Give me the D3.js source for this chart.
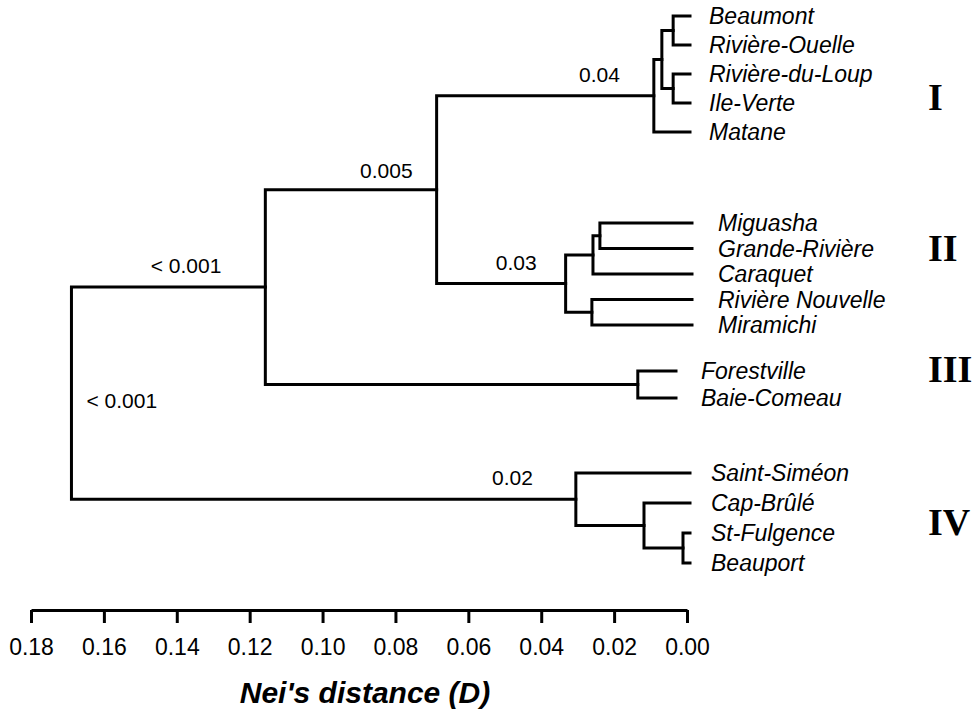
<!DOCTYPE html>
<html>
<head>
<meta charset="utf-8">
<script src="https://cdn.jsdelivr.net/npm/d3@7"></script>
<style>
  body { margin: 0; background: #fff; }
  text { fill: #000; }
</style>
</head>
<body>
<div id="chart"></div>
<script>
// leaves, top to bottom, with their cluster
var leafNames = ["Beaumont", "Rivière-Ouelle", "Rivière-du-Loup", "Ile-Verte", "Matane",
                 "Miguasha", "Grande-Rivière", "Caraquet", "Rivière Nouvelle", "Miramichi",
                 "Forestville", "Baie-Comeau",
                 "Saint-Siméon", "Cap-Brûlé", "St-Fulgence", "Beauport"];
var leafGroups = ["I", "I", "I", "I", "I",
                  "II", "II", "II", "II", "II",
                  "III", "III",
                  "IV", "IV", "IV", "IV"];

// merges: [node id, upper child, lower child, Nei's distance]
var merges = [
  ["n1", "Beaumont", "Rivière-Ouelle", 0.0038],
  ["n2", "Rivière-du-Loup", "Ile-Verte", 0.0038],
  ["n3", "n1", "n2", 0.0069],
  ["n4", "n3", "Matane", 0.0091],
  ["n5", "Miguasha", "Grande-Rivière", 0.0239],
  ["n6", "n5", "Caraquet", 0.0258],
  ["n7", "Rivière Nouvelle", "Miramichi", 0.0261],
  ["n8", "n6", "n7", 0.0333],
  ["n9", "n4", "n8", 0.0687],
  ["n10", "Forestville", "Baie-Comeau", 0.0135],
  ["n11", "n9", "n10", 0.1157],
  ["n12", "St-Fulgence", "Beauport", 0.0011],
  ["n13", "Cap-Brûlé", "n12", 0.0118],
  ["n14", "Saint-Siméon", "n13", 0.0305],
  ["n15", "n11", "n14", 0.1689]
];

// P values written on the branch leading into a node
var branchLabels = [["n4", "0.04"], ["n9", "0.005"], ["n11", "< 0.001"], ["n8", "0.03"], ["n14", "0.02"]];
var rootLabel = "< 0.001";

var groupNames = ["I", "II", "III", "IV"];
var tickValues = [0.18, 0.16, 0.14, 0.12, 0.10, 0.08, 0.06, 0.04, 0.02, 0.00];
var axisTitle = "Nei's distance (D)";

// layout (pixels)
var w = 973, h = 715;
var groupLayout = {
  I:   {gap: 0,  step: 29,   labelDx: 0,  stub: 3,   numDy: 23},
  II:  {gap: 91, step: 25.5, labelDx: 9,  stub: 5,   numDy: -26},
  III: {gap: 46, step: 27,   labelDx: -8, stub: -11, numDy: -16},
  IV:  {gap: 75, step: 30,   labelDx: 2,  stub: 3,   numDy: 4}
};
var branchLabelShift = {n4: [0, 0], n9: [10, 2], n11: [-10, 0], n8: [5, 0], n14: [-9, 0]};
var firstLeafY = 16;

var x = d3.scaleLinear().domain([0.18, 0]).range([31, 687]);

var svg = d3.select("#chart")
    .append("svg")
    .attr("width", w)
    .attr("height", h)
    .style("background-color", "white");

// leaf y positions
var pos = {};
var y = firstLeafY, prevGroup = null;
leafNames.forEach(function(name, i) {
  var g = leafGroups[i];
  if (prevGroup !== null) {
    y += (g === prevGroup) ? groupLayout[g].step : groupLayout[g].gap;
  }
  pos[name] = {x: x(0) + groupLayout[g].stub, y: y, group: g};
  prevGroup = g;
});

// internal nodes
merges.forEach(function(m) {
  pos[m[0]] = {x: x(m[3]), y: (pos[m[1]].y + pos[m[2]].y) / 2};
});

var tree = svg.append("g")
    .attr("fill", "none")
    .attr("stroke", "#000")
    .attr("stroke-width", 3)
    .attr("stroke-linecap", "square");

merges.forEach(function(m) {
  var p = pos[m[0]], a = pos[m[1]], b = pos[m[2]];
  tree.append("path")
      .attr("d", "M" + a.x + "," + a.y + "H" + p.x + "V" + b.y + "H" + b.x);
});

// leaf names
svg.append("g")
    .selectAll("text")
    .data(leafNames)
    .enter()
    .append("text")
    .attr("x", function(d, i) { return x(0) + 22 + groupLayout[leafGroups[i]].labelDx; })
    .attr("y", function(d) { return pos[d].y; })
    .attr("dy", "0.36em")
    .style("font-family", "'Liberation Sans', Arial, sans-serif")
    .style("font-style", "italic")
    .style("font-size", "23px")
    .text(function(d) { return d; });

// branch p-values
svg.append("g")
    .selectAll("text")
    .data(branchLabels)
    .enter()
    .append("text")
    .attr("x", function(d) { return pos[d[0]].x - 34 + branchLabelShift[d[0]][0]; })
    .attr("y", function(d) { return pos[d[0]].y - 14 + branchLabelShift[d[0]][1]; })
    .attr("text-anchor", "end")
    .style("font-family", "'Liberation Sans', Arial, sans-serif")
    .style("font-size", "21px")
    .text(function(d) { return d[1]; });

var root = pos["n15"];
var rootTop = pos["n11"].y, rootBottom = pos["n14"].y;
svg.append("text")
    .attr("x", root.x + 15)
    .attr("y", (rootTop + rootBottom) / 2 + 15)
    .style("font-family", "'Liberation Sans', Arial, sans-serif")
    .style("font-size", "21px")
    .text(rootLabel);

// cluster numerals
svg.append("g")
    .selectAll("text")
    .data(groupNames)
    .enter()
    .append("text")
    .attr("x", 928)
    .attr("y", function(g) {
      var ys = leafNames.filter(function(n, i) { return leafGroups[i] === g; })
                        .map(function(n) { return pos[n].y; });
      return (d3.min(ys) + d3.max(ys)) / 2 + groupLayout[g].numDy + 13;
    })
    .style("font-family", "'Liberation Serif', 'Times New Roman', serif")
    .style("font-weight", "bold")
    .style("font-size", "38px")
    .text(function(g) { return g; });

// distance axis
var axis = svg.append("g")
    .attr("transform", "translate(0,610)")
    .call(d3.axisBottom(x)
      .tickValues(tickValues)
      .tickFormat(d3.format(".2f"))
      .tickSize(13)
      .tickSizeOuter(0)
      .tickPadding(16));

axis.select(".domain").attr("stroke-width", 3);
axis.selectAll(".tick line").attr("stroke-width", 3);
axis.selectAll(".tick text")
    .style("font-family", "'Liberation Sans', Arial, sans-serif")
    .style("font-size", "23px");

svg.append("text")
    .attr("x", 365)
    .attr("y", 703)
    .attr("text-anchor", "middle")
    .style("font-family", "'Liberation Sans', Arial, sans-serif")
    .style("font-weight", "bold")
    .style("font-style", "italic")
    .style("font-size", "30px")
    .text(axisTitle);
</script>
</body>
</html>
